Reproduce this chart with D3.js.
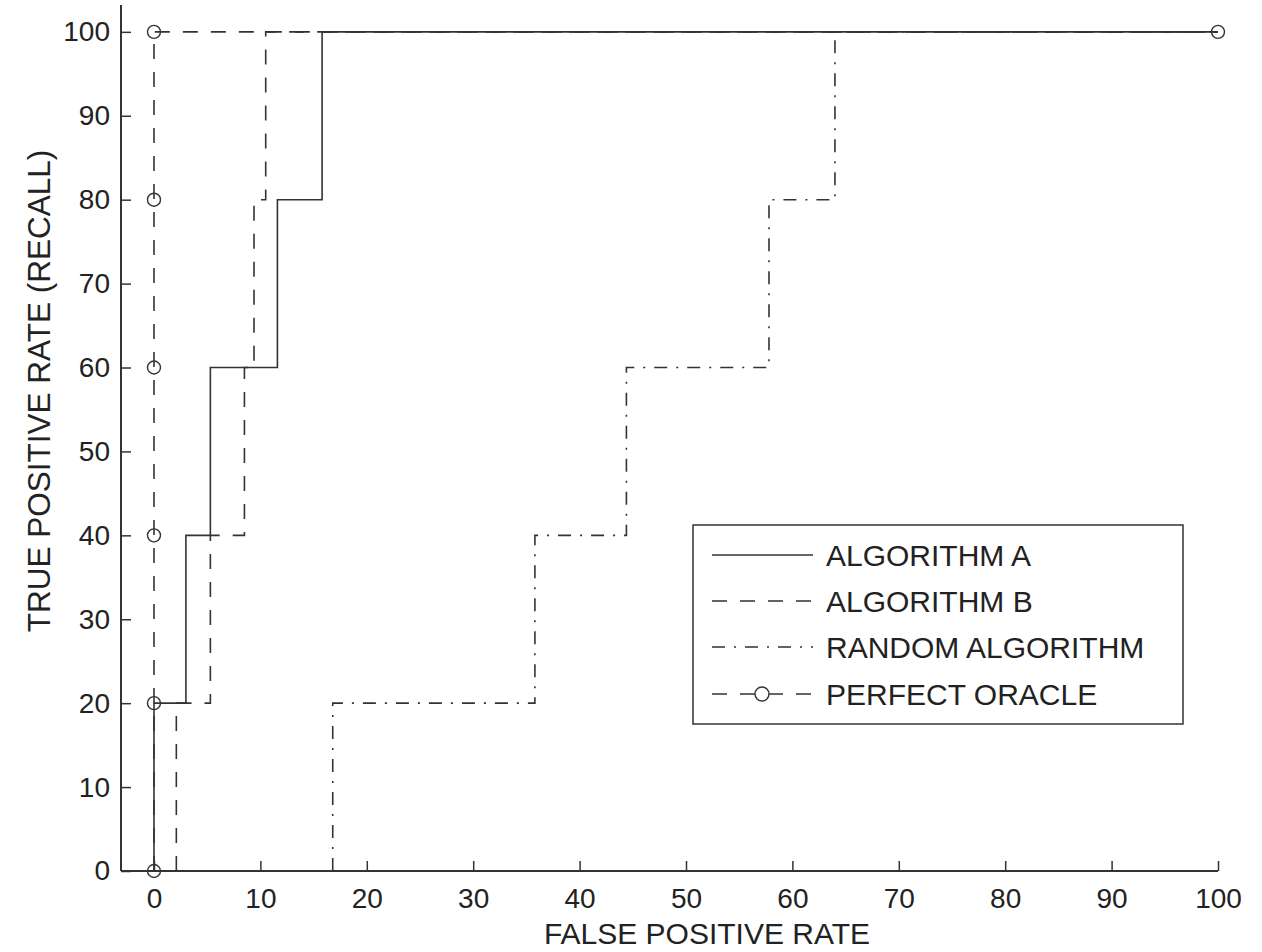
<!DOCTYPE html>
<html><head><meta charset="utf-8">
<script src="https://cdn.jsdelivr.net/npm/d3@7"></script>
<style>body{margin:0;background:#fff}svg{display:block}text{font-family:"Liberation Sans",Arial,sans-serif;fill:#222}</style>
</head><body>
<svg id="c" width="1262" height="952"></svg>
<script>
const xTicks = [0,10,20,30,40,50,60,70,80,90,100];
const yTicks = [0,10,20,30,40,50,60,70,80,90,100];
const algoA = [[0,0],[0,20],[3,20],[3,40],[5.3,40],[5.3,60],[11.6,60],[11.6,80],[15.8,80],[15.8,100],[100,100]];
const algoB = [[2.1,0],[2.1,20],[5.3,20],[5.3,40],[8.5,40],[8.5,60],[9.4,60],[9.4,80],[10.5,80],[10.5,100],[100,100]];
const randomAlgo = [[16.8,0],[16.8,20],[35.8,20],[35.8,40],[44.4,40],[44.4,60],[57.8,60],[57.8,80],[64,80],[64,100],[100,100]];
const oracle = [[0,0],[0,20],[0,40],[0,60],[0,80],[0,100],[100,100]];
const seriesNames = ["ALGORITHM A","ALGORITHM B","RANDOM ALGORITHM","PERFECT ORACLE"];

const svg = d3.select("#c");
const x = d3.scaleLinear().domain([-3.1,100]).range([121,1218]);
const y = d3.scaleLinear().domain([0,103.2]).range([871,5]);
const ink = "#333";

// axes
const gx = svg.append("g").attr("transform","translate(0,871)")
  .call(d3.axisBottom(x).tickValues(xTicks).tickSize(-10).tickPadding(17).tickFormat(d3.format("d")));
const gy = svg.append("g").attr("transform","translate(121,0)")
  .call(d3.axisLeft(y).tickValues(yTicks).tickSize(-10).tickPadding(11).tickFormat(d3.format("d")));
[gx,gy].forEach(g=>{
  g.select(".domain").attr("stroke",ink).attr("stroke-width",2);
  g.selectAll(".tick line").attr("stroke",ink).attr("stroke-width",1.5);
  g.selectAll(".tick text").attr("font-size",28).attr("font-family","Liberation Sans, Arial, sans-serif").attr("fill","#222");
});
gx.select(".domain").attr("d",`M${x(-3.1)},0H${x(100)}`);
gy.select(".domain").attr("d",`M0,${y(0)}V${y(103.2)}`);

const line = d3.line().x(d=>x(d[0])).y(d=>y(d[1]));
const styles = [
  {data:algoA, dash:null},
  {data:algoB, dash:"15,13"},
  {data:randomAlgo, dash:"13,9,2,9"},
  {data:oracle, dash:"15,13"}
];
const plot = svg.append("g");
styles.forEach(s=>{
  plot.append("path").datum(s.data).attr("d",line).attr("fill","none")
    .attr("stroke",ink).attr("stroke-width",1.6).attr("stroke-dasharray",s.dash);
});
plot.selectAll("circle.o").data(oracle).join("circle").attr("class","o")
  .attr("cx",d=>x(d[0])).attr("cy",d=>y(d[1])).attr("r",6.5)
  .attr("fill","none").attr("stroke",ink).attr("stroke-width",1.4);

// axis labels
svg.append("text").attr("x",707).attr("y",944).attr("text-anchor","middle").attr("font-size",30).text("FALSE POSITIVE RATE");
svg.append("text").attr("transform","translate(50,391) rotate(-90)").attr("text-anchor","middle").attr("font-size",31.5).text("TRUE POSITIVE RATE (RECALL)");

// legend
const lg = svg.append("g");
lg.append("rect").attr("x",693).attr("y",525).attr("width",490).attr("height",199)
  .attr("fill","#fff").attr("stroke",ink).attr("stroke-width",1.5);
const rowsY = [555,601,647,694];
seriesNames.forEach((n,i)=>{
  const yy = rowsY[i];
  lg.append("line").attr("x1",712).attr("x2",813).attr("y1",yy).attr("y2",yy)
    .attr("stroke",ink).attr("stroke-width",1.6).attr("stroke-dasharray",styles[i].dash);
  if(i===3){
    lg.append("circle").attr("cx",762).attr("cy",yy).attr("r",7).attr("fill","#fff").attr("stroke",ink).attr("stroke-width",1.4);
  }
  lg.append("text").attr("x",826).attr("y",yy).attr("dy","0.36em").attr("font-size",30).text(n);
});
</script>
</body></html>
